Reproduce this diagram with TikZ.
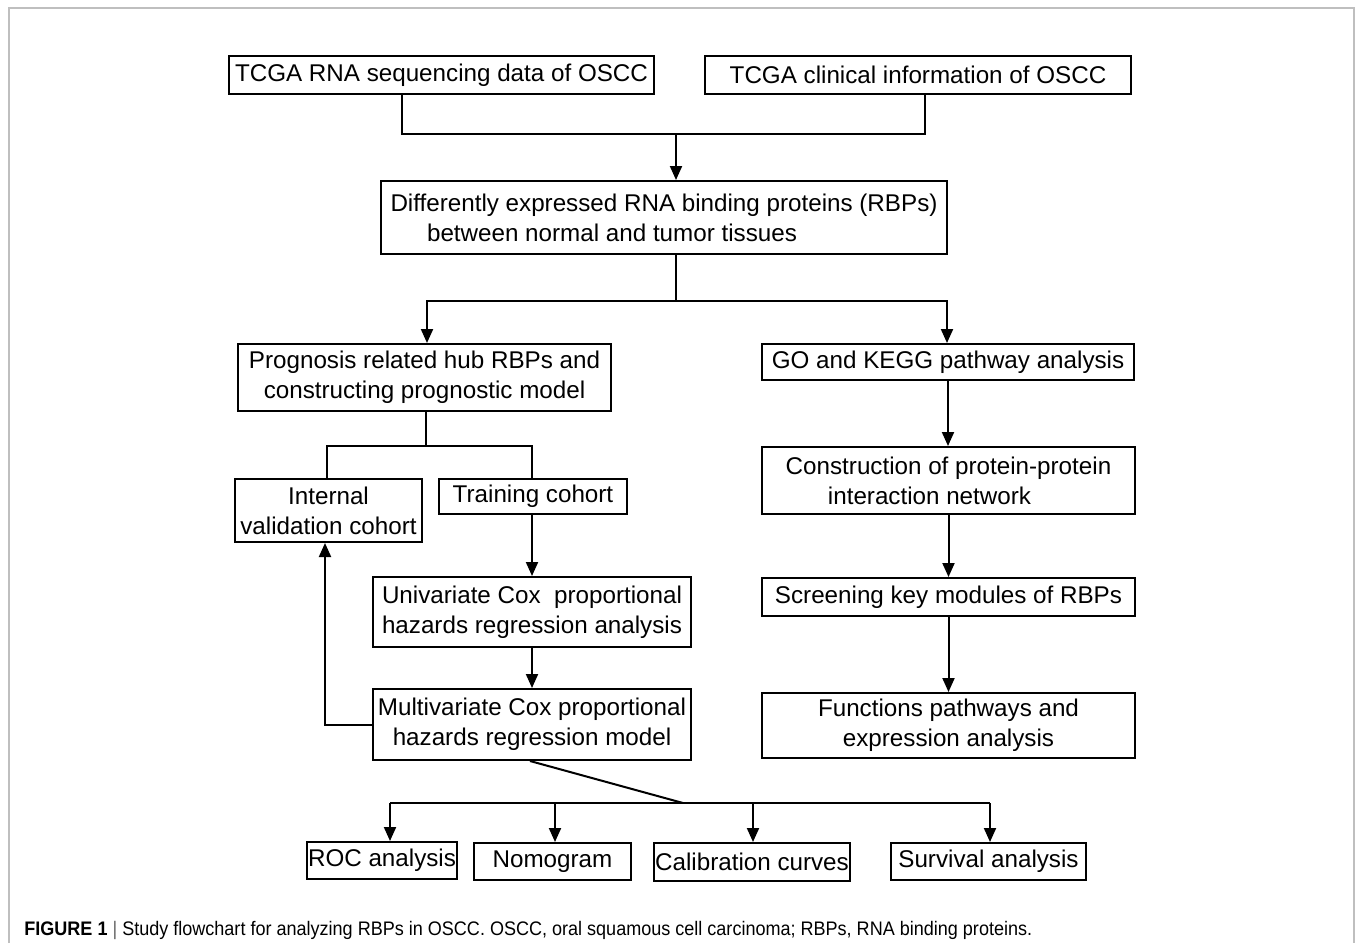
\documentclass[tikz,border=0pt]{standalone}
\usepackage{fontspec}
\usepackage{graphicx}
\setmainfont{Liberation Sans}
\usetikzlibrary{arrows.meta}
\newcommand\mybox[6]{\node[box, minimum width={(#4-#2)*0.5pt}, minimum height={(#5-#3)*0.5pt}] (#1) at ({(#2+#4)/2},{(#3+#5)/2}) {#6};}
\begin{document}
\begin{tikzpicture}[x=0.5pt,y=-0.5pt,
  box/.style={draw, line width=1pt, inner sep=0pt, align=center, font=\fontsize{12.1}{15}\selectfont},
  conn/.style={line width=1pt},
  arr/.style={line width=1pt, -{Triangle[width=6pt,length=7pt]}}]
\useasboundingbox (0,0) rectangle (1355,943);
\draw[black!25, line width=1pt] (9,943) -- (9,8) -- (1354,8) -- (1354,943);

\mybox{a}{229}{56}{654}{94}{TCGA RNA sequencing data of OSCC}
\mybox{b}{705}{56}{1131}{94}{TCGA clinical information of OSCC}
\mybox{c}{381}{181}{947}{254}{Differently expressed RNA binding proteins (RBPs)\\between normal and tumor tissues\hspace*{52pt}}
\mybox{d}{238}{344}{611}{411}{Prognosis related hub RBPs and\\constructing prognostic model}
\mybox{e}{762}{344}{1134}{380}{GO and KEGG pathway analysis}
\mybox{f}{762}{447}{1135}{514}{Construction of protein-protein\\interaction network\hspace*{19pt}}
\mybox{s}{762}{578}{1135}{616}{Screening key modules of RBPs}
\mybox{fp}{762}{693}{1135}{758}{Functions pathways and\\expression analysis}
\mybox{g}{235}{479}{422}{542}{Internal\\validation cohort}
\mybox{h}{439}{479}{627}{514}{Training cohort}
\mybox{i}{373}{577}{691}{647}{Univariate Cox\ \ proportional\\hazards regression analysis}
\mybox{k}{373}{689}{691}{760}{Multivariate Cox proportional\\hazards regression model}
\mybox{l}{307}{842}{457}{879}{ROC analysis}
\mybox{n}{474}{843}{631}{880}{Nomogram}
\mybox{cc}{654}{843}{850}{881}{Calibration curves}
\mybox{sv}{891}{843}{1086}{880}{Survival analysis}

\coordinate (j1) at (402,134);
\coordinate (j2) at (925,134);
\coordinate (j3) at (676,134);
\draw[conn] (a.south -| j1) -- (j1) -- (j2) -- (b.south -| j2);
\draw[arr] (j3) -- (c.north -| j3);

\coordinate (j4) at (676,301);
\draw[conn] (c.south -| j4) -- (j4);
\draw[arr] (j4) -| (d.north -| 427,0);
\draw[arr] (j4) -| (e.north -| 947,0);

\draw[arr] (e.south) -- (f.north -| e.south);
\draw[arr] (f.south) -- (s.north -| f.south);
\draw[arr] (s.south) -- (fp.north -| s.south);

\coordinate (j7) at (426,446);
\draw[conn] (d.south -| j7) -- (j7);
\draw[conn] (g.north -| 327,0) |- (j7) -| (h.north -| 532,0);
\draw[arr] (h.south -| 532,0) -- (i.north -| 532,0);
\draw[arr] (i.south -| 532,0) -- (k.north -| 532,0);
\draw[arr] (k.west) -| (g.south -| 325,0);

\coordinate (j8) at (683,803);
\draw[conn] (k.south -| 530,0) -- (j8);
\draw[conn] (390,803) -- (990,803);
\draw[arr] (390,803) -- (l.north -| 390,0);
\draw[arr] (555,803) -- (n.north -| 555,0);
\draw[arr] (753,803) -- (cc.north -| 753,0);
\draw[arr] (990,803) -- (sv.north -| 990,0);

\node[anchor=west, inner sep=0pt, font=\fontsize{9.8}{11}\selectfont] (cap) at (24,930) {\scalebox{0.92}[1]{\textbf{FIGURE 1} {\color{black!60}|} Study flowchart for analyzing RBPs in OSCC. OSCC, oral squamous cell carcinoma; RBPs, RNA binding proteins.}};
\end{tikzpicture}
\end{document}
